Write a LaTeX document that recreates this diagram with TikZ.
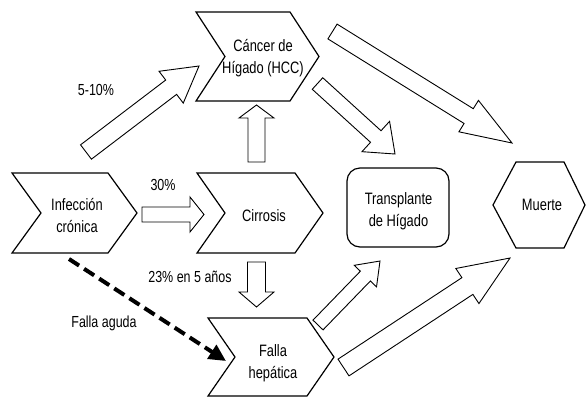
\documentclass[tikz,border=0pt]{standalone}
\usepackage{fontspec}
\setmainfont{Liberation Sans}[FakeStretch=0.78]
\usetikzlibrary{calc,arrows.meta}
\tikzset{
  shp/.style={draw=black, line width=1.2pt, line join=miter},
  blk/.style={draw=black, line width=0.9pt, fill=white, line join=miter},
  txt/.style={align=center, inner sep=0pt, font=\fontsize{16.5}{21.5}\selectfont},
  lbl/.style={inner sep=0pt, font=\fontsize{16}{20}\selectfont},
  dashedarrow/.style={line width=4pt, dash pattern=on 12pt off 6pt, -{Triangle[length=17pt,width=16pt]}}
}
% block arrow: tail, tip, shaft half-width, head half-width, head length
\newcommand{\blockarr}[5]{%
  \coordinate (hb) at ($(#2)!#5!(#1)$);
  \draw[blk] ($(#1)!#3!90:(#2)$) -- ($(hb)!#3!-90:(#1)$) -- ($(hb)!#4!-90:(#1)$) -- (#2)
    -- ($(hb)!#4!90:(#1)$) -- ($(hb)!#3!90:(#1)$) -- ($(#1)!#3!-90:(#2)$) -- cycle;}
% chevron: left x, right x, depth, top y, bottom y
\newcommand{\chev}[5]{%
  \draw[shp] (#1,#4) -- (#2,#4) -- ({#2+#3},{(#4+#5)/2}) -- (#2,#5) -- (#1,#5)
    -- ({#1+#3},{(#4+#5)/2}) -- cycle;}
\begin{document}
\begin{tikzpicture}[x=1pt,y=-1pt]
\useasboundingbox (0,0) rectangle (586,400);

% shapes
\chev{12}{108}{29}{173}{253}
\chev{197}{295}{28}{173}{253}
\chev{196}{290}{29}{12}{101}
\chev{208}{307}{27}{318}{396}
\draw[shp, rounded corners=13pt] (347,168) rectangle (449,247);
\draw[shp] (493,205) -- (516,162) -- (564,162) -- (585,205) -- (564,248) -- (516,248) -- cycle;

% texts
\node[txt] (inf) at (77,215.5) {Infección\\crónica};
\node[txt] (cir) at (264,215.5) {Cirrosis};
\node[txt] (hcc) at (263,58) {Cáncer de\\Hígado (HCC)};
\node[txt] (fal) at (273,363) {Falla\\hepática};
\node[txt] (tra) at (398.5,211) {Transplante\\de Hígado};
\node[txt] (mue) at (542,204.5) {Muerte};

\node[lbl] (l1) at (96,90) {5-10\%};
\node[lbl] (l2) at (163,185) {30\%};
\node[lbl] (l3) at (190,277) {23\% en 5 años};
\node[lbl] (l4) at (104,323) {Falla aguda};

% arrow end points
\coordinate (a1t) at (86,152);    \coordinate (a1h) at (199,66);
\coordinate (a2t) at (317.5,83.5); \coordinate (a2h) at (395,154);
\coordinate (a3t) at (332.5,31.5); \coordinate (a3h) at (512,143);
\coordinate (a4t) at (318,325);   \coordinate (a4h) at (380,261);
\coordinate (a5t) at (343.5,367.5); \coordinate (a5h) at (510,258);
\coordinate (a6t) at (142,214.5); \coordinate (a6h) at (204,214.5);
\coordinate (a7t) at (256.5,162); \coordinate (a7h) at (256.5,105);
\coordinate (a8t) at (256.5,262); \coordinate (a8h) at (256.5,307);

\blockarr{a1t}{a1h}{9pt}{20pt}{35pt}
\blockarr{a2t}{a2h}{7.8pt}{20.5pt}{26pt}
\blockarr{a3t}{a3h}{8.7pt}{18.5pt}{51pt}
\blockarr{a4t}{a4h}{7pt}{15.5pt}{21pt}
\blockarr{a5t}{a5h}{10pt}{21pt}{51pt}
\blockarr{a6t}{a6h}{7.5pt}{17.5pt}{14pt}
\blockarr{a7t}{a7h}{8.5pt}{17.5pt}{13pt}
\blockarr{a8t}{a8h}{9pt}{17.5pt}{15pt}

% dashed arrow
\coordinate (ds) at (69,259);
\coordinate (de) at (226,361);
\draw[dashedarrow] (ds) -- (de);
\end{tikzpicture}
\end{document}
